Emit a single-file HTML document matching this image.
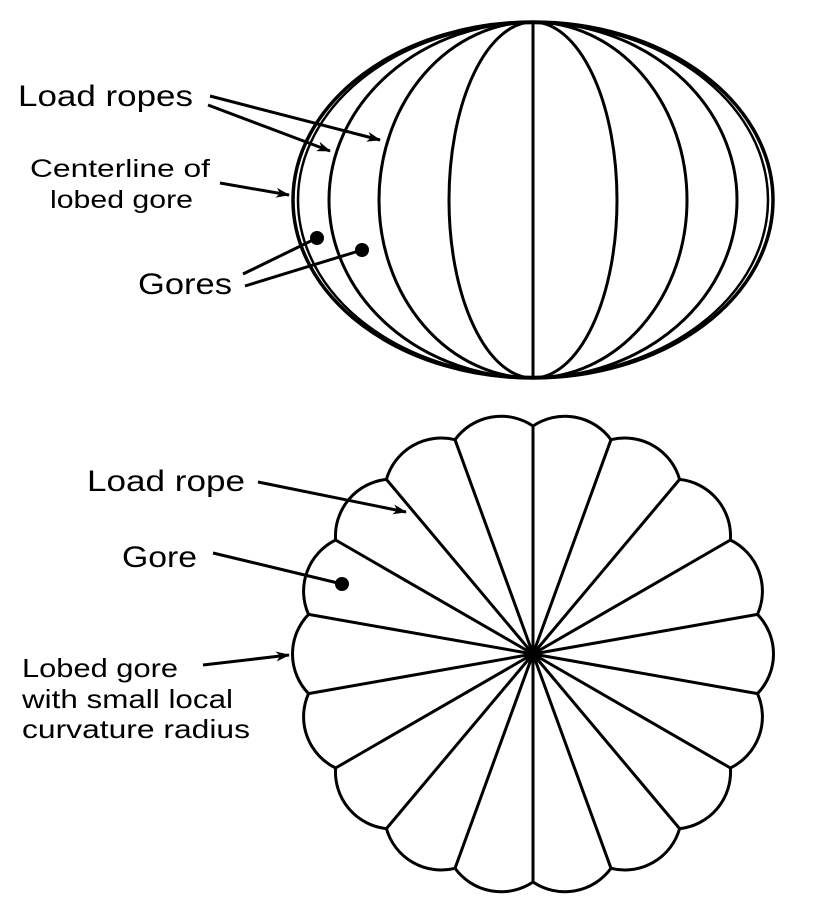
<!DOCTYPE html>
<html><head><meta charset="utf-8"><style>
html,body{margin:0;padding:0;background:#fff;}
svg{display:block;}
</style></head><body>
<svg width="820" height="914" viewBox="0 0 820 914" xmlns="http://www.w3.org/2000/svg">
<defs>
<marker id="ah" markerWidth="14" markerHeight="10" refX="13" refY="5" orient="auto" markerUnits="userSpaceOnUse">
<path d="M0,0 L14,5 L0,10 L4,5 Z" fill="#000"/>
</marker>
</defs>
<g fill="none" stroke="#000" stroke-width="3">
<ellipse cx="533" cy="200" rx="240" ry="178" stroke-width="3.5"/>
<ellipse cx="533" cy="200" rx="235" ry="177" stroke-width="2.5"/>
<ellipse cx="533" cy="200" rx="204" ry="178"/>
<ellipse cx="533" cy="200" rx="154" ry="178"/>
<ellipse cx="533" cy="200" rx="84" ry="178"/>
<line x1="533" y1="22" x2="533" y2="378"/>
</g>
<g fill="none" stroke="#000" stroke-width="3">
<path d="M533,654L533,426 M533,654L611,439.7 M533,654L679.6,479.4 M533,654L730.4,540 M533,654L757.5,614.4 M533,654L757.5,693.6 M533,654L730.4,768 M533,654L679.6,828.6 M533,654L611,868.3 M533,654L533,882 M533,654L455,868.3 M533,654L386.4,828.6 M533,654L335.6,768 M533,654L308.5,693.6 M533,654L308.5,614.4 M533,654L335.6,540 M533,654L386.4,479.4 M533,654L455,439.7"/>
<path d="M533,426 A57,57 0 0 1 611,439.7 A57,57 0 0 1 679.6,479.4 A57,57 0 0 1 730.4,540 A57,57 0 0 1 757.5,614.4 A57,57 0 0 1 757.5,693.6 A57,57 0 0 1 730.4,768 A57,57 0 0 1 679.6,828.6 A57,57 0 0 1 611,868.3 A57,57 0 0 1 533,882 A57,57 0 0 1 455,868.3 A57,57 0 0 1 386.4,828.6 A57,57 0 0 1 335.6,768 A57,57 0 0 1 308.5,693.6 A57,57 0 0 1 308.5,614.4 A57,57 0 0 1 335.6,540 A57,57 0 0 1 386.4,479.4 A57,57 0 0 1 455,439.7 A57,57 0 0 1 533,426 Z"/>
</g>
<g stroke="#000" stroke-width="3" fill="none">
<line x1="210" y1="96" x2="380" y2="140" marker-end="url(#ah)"/>
<line x1="208" y1="105" x2="330" y2="151" marker-end="url(#ah)"/>
<line x1="220" y1="183" x2="289" y2="195" marker-end="url(#ah)"/>
<line x1="243" y1="274" x2="317" y2="238"/>
<line x1="245" y1="286" x2="362" y2="250"/>
<line x1="258" y1="482" x2="406" y2="512" marker-end="url(#ah)"/>
<line x1="213" y1="553" x2="342" y2="584"/>
<line x1="203" y1="665" x2="289" y2="655" marker-end="url(#ah)"/>
</g>
<circle cx="317" cy="238" r="7"/>
<circle cx="362" cy="250" r="7"/>
<circle cx="342" cy="584" r="7"/>
<circle cx="533" cy="654" r="7"/>
<g font-family="Liberation Sans, sans-serif" fill="#000" lengthAdjust="spacingAndGlyphs">
<text x="18" y="106" font-size="30" textLength="175" lengthAdjust="spacingAndGlyphs">Load ropes</text>
<text x="30" y="177" font-size="25" textLength="180" lengthAdjust="spacingAndGlyphs">Centerline of</text>
<text x="50" y="208" font-size="25" textLength="143" lengthAdjust="spacingAndGlyphs">lobed gore</text>
<text x="138" y="294" font-size="30" textLength="94" lengthAdjust="spacingAndGlyphs">Gores</text>
<text x="87" y="491" font-size="30" textLength="158" lengthAdjust="spacingAndGlyphs">Load rope</text>
<text x="122" y="567" font-size="30" textLength="75" lengthAdjust="spacingAndGlyphs">Gore</text>
<text x="22" y="677" font-size="26" textLength="156" lengthAdjust="spacingAndGlyphs">Lobed gore</text>
<text x="22" y="708" font-size="26" textLength="211" lengthAdjust="spacingAndGlyphs">with small local</text>
<text x="22" y="738" font-size="26" textLength="228" lengthAdjust="spacingAndGlyphs">curvature radius</text>
</g>
</svg>
</body></html>
